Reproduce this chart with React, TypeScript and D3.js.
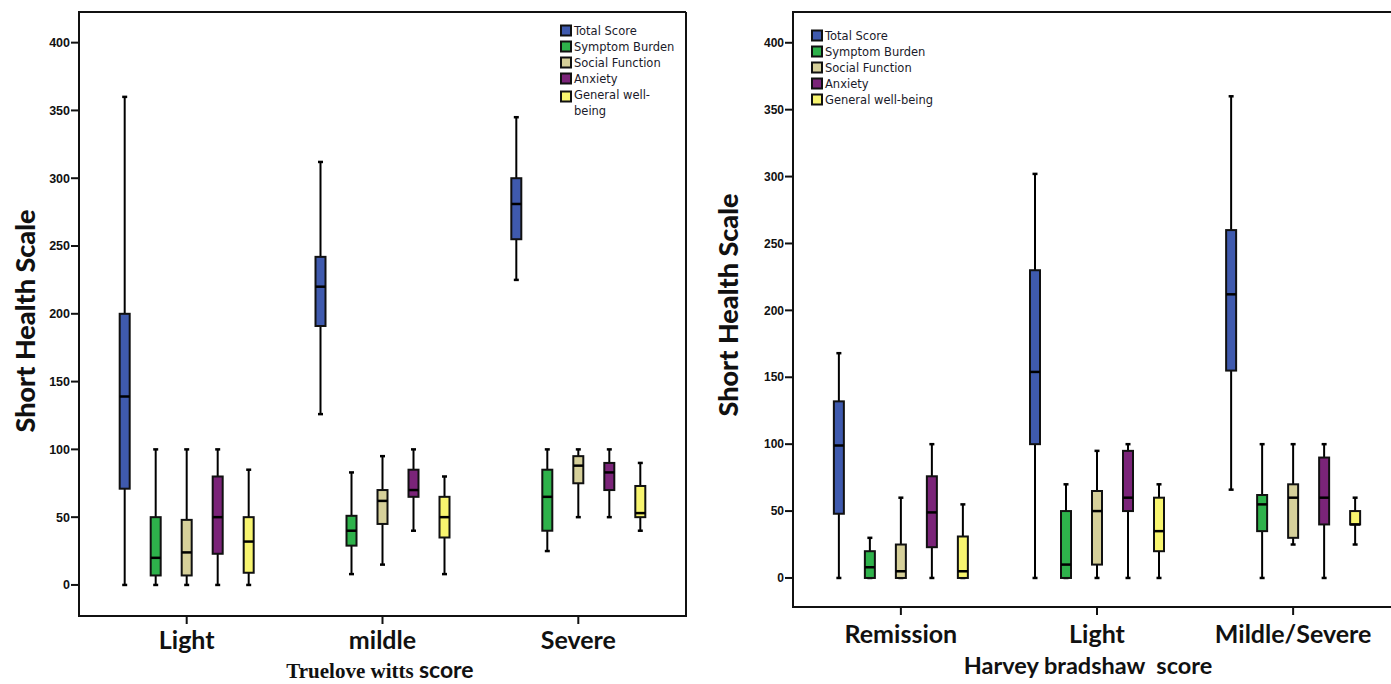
import React from "react";
import * as d3 from "d3";

// ---------- DATA ----------
const seriesNames = ["Total Score", "Symptom Burden", "Social Function", "Anxiety", "General well-being"];
const seriesColors = ["#3F5AAE", "#2EB24B", "#D6D09A", "#7B2479", "#F8F56F"];

// Left chart: Truelove witts score. Each entry: [min, q1, median, q3, max]
const leftCategories = ["Light", "mildle", "Severe"];
const leftTotal = [[0, 71, 139, 200, 360], [126, 191, 220, 242, 312], [225, 255, 281, 300, 345]];
const leftSymptom = [[0, 7, 20, 50, 100], [8, 29, 40, 51, 83], [25, 40, 65, 85, 100]];
const leftSocial = [[0, 7, 24, 48, 100], [15, 45, 62, 70, 95], [50, 75, 88, 95, 100]];
const leftAnxiety = [[0, 23, 50, 80, 100], [40, 65, 70, 85, 100], [50, 70, 83, 90, 100]];
const leftWellbeing = [[0, 9, 32, 50, 85], [8, 35, 50, 65, 80], [40, 50, 53, 73, 90]];

// Right chart: Harvey bradshaw score
const rightCategories = ["Remission", "Light", "Mildle/Severe"];
const rightTotal = [[0, 48, 99, 132, 168], [0, 100, 154, 230, 302], [66, 155, 212, 260, 360]];
const rightSymptom = [[0, 0, 8, 20, 30], [0, 0, 10, 50, 70], [0, 35, 55, 62, 100]];
const rightSocial = [[0, 0, 5, 25, 60], [0, 10, 50, 65, 95], [25, 30, 60, 70, 100]];
const rightAnxiety = [[0, 23, 49, 76, 100], [0, 50, 60, 95, 100], [0, 40, 60, 90, 100]];
const rightWellbeing = [[0, 0, 5, 31, 55], [0, 20, 35, 60, 70], [25, 40, 40, 50, 60]];

const yTicks = [0, 50, 100, 150, 200, 250, 300, 350, 400];

type Panel = {
  categories: string[];
  series: number[][][];
  frame: { x0: number; x1: number; y0: number; y1: number };
  yDomain: [number, number];
  catLabelY: number;
  tickFont: number;
  legend: { x: number; y: number; lines: string[][] };
  yTitle: { x: number; y: number };
};

const W = 1391;
const H = 684;

function BoxPlotPanel({ p }: { p: Panel }) {
  const { frame } = p;
  const x = d3.scalePoint<string>().domain(p.categories).range([frame.x0, frame.x1]).padding(0.55);
  const inner = d3.scalePoint<string>().domain(seriesNames).range([-62, 62]);
  const y = d3.scaleLinear().domain(p.yDomain).range([frame.y1, frame.y0]);
  const boxW = 10;
  const capW = 5;
  return (
    <g>
      {p.series.map((ser, si) =>
        ser.map((v, ci) => {
          const cx = (x(p.categories[ci]) as number) + (inner(seriesNames[si]) as number);
          const [mn, q1, md, q3, mx] = v;
          return (
            <g key={`${si}-${ci}`}>
              <line x1={cx} x2={cx} y1={y(mx)} y2={y(q3)} stroke="#000" strokeWidth={2} />
              <line x1={cx} x2={cx} y1={y(q1)} y2={y(mn)} stroke="#000" strokeWidth={2} />
              <line x1={cx - capW / 2} x2={cx + capW / 2} y1={y(mx)} y2={y(mx)} stroke="#000" strokeWidth={2.5} />
              <line x1={cx - capW / 2} x2={cx + capW / 2} y1={y(mn)} y2={y(mn)} stroke="#000" strokeWidth={2.5} />
              <rect
                x={cx - boxW / 2}
                y={y(q3)}
                width={boxW}
                height={Math.max(0, y(q1) - y(q3))}
                fill={seriesColors[si]}
                stroke="#111"
                strokeWidth={2}
              />
              <line x1={cx - boxW / 2} x2={cx + boxW / 2} y1={y(md)} y2={y(md)} stroke="#000" strokeWidth={2.5} />
            </g>
          );
        })
      )}
      <path
        d={`M${frame.x1},${frame.y0}H${frame.x0}V${frame.y1}H${frame.x1}V${frame.y0}`}
        fill="none"
        stroke="#111"
        strokeWidth={2}
      />
      {yTicks.map((t) => (
        <g key={t}>
          <line x1={frame.x0 - 8} x2={frame.x0} y1={y(t)} y2={y(t)} stroke="#111" strokeWidth={2} />
          <text
            x={frame.x0 - 9}
            y={y(t)}
            dy="0.35em"
            textAnchor="end"
            fontFamily="'Liberation Sans Narrow', 'Liberation Sans', Arial, sans-serif"
            fontWeight="bold"
            fontSize={p.tickFont}
            fill="#111"
          >
            {t}
          </text>
        </g>
      ))}
      {p.categories.map((c) => (
        <g key={c}>
          <line x1={x(c)} x2={x(c)} y1={frame.y1} y2={frame.y1 + 8} stroke="#111" strokeWidth={2} />
          <text
            x={x(c)}
            y={p.catLabelY}
            textAnchor="middle"
            fontFamily="Lato, 'Open Sans', sans-serif"
            fontWeight="bold"
            fontSize={25}
            fill="#111"
          >
            {c}
          </text>
        </g>
      ))}
      <text
        transform={`translate(${p.yTitle.x},${p.yTitle.y}) rotate(-90)`}
        textAnchor="middle"
        fontFamily="Lato, 'Open Sans', sans-serif"
        fontWeight="900"
        fontSize={27}
        fill="#111"
      >
        Short Health Scale
      </text>
      {p.legend.lines.map((lines, i) => (
        <g key={i} transform={`translate(${p.legend.x},${p.legend.y + i * 16})`}>
          <rect x={0} y={-5 + (lines.length > 1 ? 2 : 0)} width={10} height={10} fill={seriesColors[i]} stroke="#111" strokeWidth={2} />
          {lines.map((ln, k) => (
            <text
              key={k}
              x={13}
              y={k * 16}
              dy="0.35em"
              fontFamily="'DejaVu Sans', Verdana, sans-serif"
              fontSize={11.5}
              fill="#1a1a2a"
            >
              {ln}
            </text>
          ))}
        </g>
      ))}
    </g>
  );
}

export default function App() {
  const left: Panel = {
    categories: leftCategories,
    series: [leftTotal, leftSymptom, leftSocial, leftAnxiety, leftWellbeing],
    frame: { x0: 79, x1: 686, y0: 12, y1: 616 },
    yDomain: [-22.9, 422.6],
    catLabelY: 649,
    tickFont: 12.5,
    legend: {
      x: 561,
      y: 30.5,
      lines: [["Total Score"], ["Symptom Burden"], ["Social Function"], ["Anxiety"], ["General well-", "being"]],
    },
    yTitle: { x: 35, y: 321 },
  };
  const right: Panel = {
    categories: rightCategories,
    series: [rightTotal, rightSymptom, rightSocial, rightAnxiety, rightWellbeing],
    frame: { x0: 793, x1: 1401, y0: 12, y1: 607 },
    yDomain: [-21.7, 423],
    catLabelY: 643,
    tickFont: 12,
    legend: {
      x: 812,
      y: 35.5,
      lines: [["Total Score"], ["Symptom Burden"], ["Social Function"], ["Anxiety"], ["General well-being"]],
    },
    yTitle: { x: 738, y: 305 },
  };
  return (
    <div style={{ position: "absolute", left: 0, top: 0, width: W, height: H, overflow: "hidden", background: "#fff" }}>
      <svg width={W} height={H} style={{ display: "block" }}>
        <rect width={W} height={H} fill="#fff" />
        <BoxPlotPanel p={left} />
        <BoxPlotPanel p={right} />
        <text x={380} y={678} textAnchor="middle" fill="#111" fontWeight="bold">
          <tspan fontFamily="'Liberation Serif', 'Times New Roman', serif" fontSize={21}>
            Truelove witts{" "}
          </tspan>
          <tspan fontFamily="Lato, 'Open Sans', sans-serif" fontSize={23}>
            score
          </tspan>
        </text>
        <text
          x={1088}
          y={674}
          textAnchor="middle"
          fill="#111"
          fontWeight="bold"
          fontFamily="Lato, 'Open Sans', sans-serif"
          fontSize={23.5}
          style={{ whiteSpace: "pre" }}
        >
          {"Harvey bradshaw  score"}
        </text>
      </svg>
    </div>
  );
}
